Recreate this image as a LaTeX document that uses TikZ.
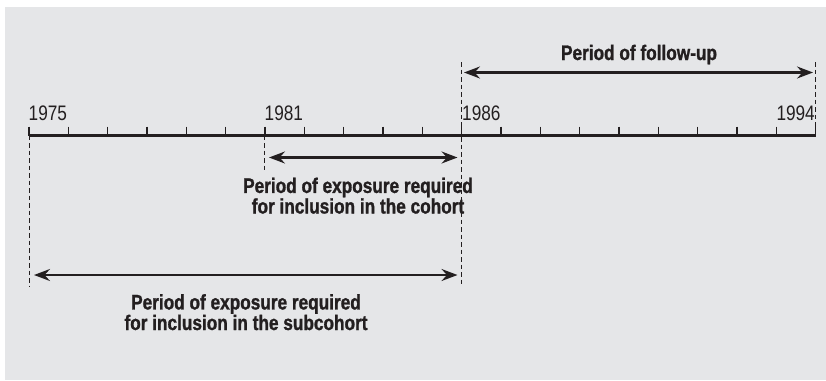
\documentclass[tikz,border=0pt]{standalone}
\usepackage{fontspec}
\setmainfont{Liberation Sans}[FakeStretch=0.82, BoldFeatures={FakeBold=1.2}]
\usetikzlibrary{arrows.meta}
\definecolor{bg}{HTML}{E5E6E8}
\definecolor{ink}{HTML}{231F20}
\tikzset{
  axis/.style={line width=2.8pt, ink},
  tickmark/.style={line width=1.1pt, ink},
  guide/.style={line width=1pt, ink, dash pattern=on 4.5pt off 3pt},
  period/.style={line width=2.3pt, ink, {Stealth[length=16pt,width=12pt,inset=5.5pt]}-{Stealth[length=16pt,width=12pt,inset=5.5pt]}},
  year/.style={font=\fontsize{21}{25}\selectfont, text=ink, inner sep=0pt},
  label/.style={font=\bfseries\fontsize{21}{19.5}\selectfont, text=ink, inner sep=0pt, align=center}
}
\begin{document}
\begin{tikzpicture}[x=1pt,y=-1pt]
\useasboundingbox (0,0) rectangle (826,380);
\fill[bg] (5,7) rectangle (826,380);
% axis
\coordinate (y1975) at (29,135.5);
\coordinate (y1981) at ({29+6*39.33},135.5);
\coordinate (y1986) at ({29+11*39.33},135.5);
\coordinate (y1994) at ({29+20*39.33},135.5);
\draw[axis] (y1975) -- (y1994);
\foreach \i in {0,...,20}{
  \draw[tickmark] ({29+\i*39.33},126.5) -- ({29+\i*39.33},135.5);
}
% year labels
\node[year, anchor=base west] (l1975) at (28.5,120) {1975};
\node[year, anchor=base west] (l1981) at (264.5,120) {1981};
\node[year, anchor=base west] (l1986) at (462,120) {1986};
\node[year, anchor=base east] (l1994) at (815,120) {1994};
% guides
\coordinate (g1975b) at (29,287);
\coordinate (g1981b) at ({29+6*39.33},170);
\coordinate (g1986t) at ({29+11*39.33},62);
\coordinate (g1986b) at ({29+11*39.33},287);
\coordinate (g1994t) at ({29+20*39.33},62);
\draw[guide] (y1975) -- (g1975b);
\draw[guide] (y1981) -- (g1981b);
\draw[guide] (g1986t) -- (g1986b);
\draw[guide] (g1994t) -- (y1994);
% arrows
\coordinate (fa) at (464,72.5);
\coordinate (fb) at (813,72.5);
\coordinate (ca) at (269,157.5);
\coordinate (cb) at (457.5,157.5);
\coordinate (sa) at (34,275);
\coordinate (sb) at (457.5,275);
\draw[period] (fa) -- (fb);
\draw[period] (ca) -- (cb);
\draw[period] (sa) -- (sb);
% labels
\node[label, anchor=base] (lfollow) at (639,60) {Period of follow-up};
\node[label, anchor=base] (lcohort) at (358,213.5) {Period of exposure required\\for inclusion in the cohort};
\node[label, anchor=base] (lsub) at (246,330) {Period of exposure required\\for inclusion in the subcohort};
\end{tikzpicture}
\end{document}
